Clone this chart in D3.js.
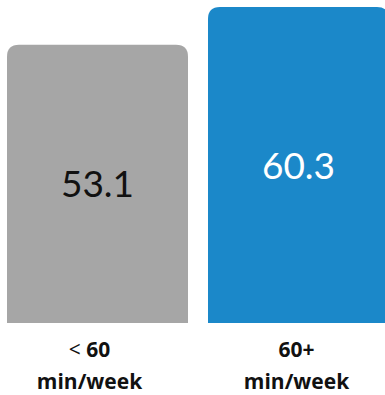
<!DOCTYPE html>
<html>
<head>
<meta charset="utf-8">
<script src="https://cdn.jsdelivr.net/npm/d3@7"></script>
<style>
  html, body { margin: 0; padding: 0; background: #fff; }
  svg { display: block; }
</style>
</head>
<body>
<svg id="chart" width="385" height="395"></svg>
<script>
const categories = ["< 60 min/week", "60+ min/week"];
const values = [53.1, 60.3];
const valueLabels = ["53.1", "60.3"];
const labelLine1Pre = ["<", ""];
const labelLine1Bold = ["60", "60+"];
const labelLine2 = ["min/week", "min/week"];

const W = 385, H = 395;
const barColors = ["#a6a6a6", "#1b88c9"];
const valueColors = ["#111111", "#ffffff"];
const labelShift = [-8, -2];
const radius = 12;

const svg = d3.select("#chart");

const x = d3.scaleBand()
  .domain(categories)
  .range([7, 389])
  .paddingInner(0.0995)
  .paddingOuter(0);

const y = d3.scaleLinear()
  .domain([0, d3.max(values)])
  .range([323, 7]);

function topRounded(x0, y0, w, h, r) {
  return `M${x0},${y0 + h}` +
    `L${x0},${y0 + r}` +
    `Q${x0},${y0} ${x0 + r},${y0}` +
    `L${x0 + w - r},${y0}` +
    `Q${x0 + w},${y0} ${x0 + w},${y0 + r}` +
    `L${x0 + w},${y0 + h}Z`;
}

svg.selectAll("path.bar")
  .data(values)
  .join("path")
  .attr("class", "bar")
  .attr("fill", (d, i) => barColors[i])
  .attr("d", (d, i) => topRounded(x(categories[i]), y(d), x.bandwidth(), y(0) - y(d), radius));

svg.selectAll("text.val")
  .data(values)
  .join("text")
  .attr("class", "val")
  .attr("x", (d, i) => x(categories[i]) + x.bandwidth() / 2)
  .attr("y", (d, i) => (y(d) + y(0)) / 2 + 13.5)
  .attr("text-anchor", "middle")
  .attr("font-family", "Lato, 'Open Sans', sans-serif")
  .attr("font-size", 37)
  .attr("fill", (d, i) => valueColors[i])
  .text((d, i) => valueLabels[i]);

const lab = svg.selectAll("g.lab")
  .data(categories)
  .join("g")
  .attr("class", "lab")
  .attr("transform", (d, i) => `translate(${x(d) + x.bandwidth() / 2 + labelShift[i]},0)`);

const l1 = lab.append("text")
  .attr("y", 357)
  .attr("text-anchor", "middle")
  .attr("font-family", "'Open Sans', Lato, sans-serif")
  .attr("font-size", 21)
  .attr("fill", "#111");
l1.append("tspan")
  .attr("font-weight", 400)
  .text((d, i) => labelLine1Pre[i] ? labelLine1Pre[i] + " " : "");
l1.append("tspan")
  .attr("font-weight", 700)
  .text((d, i) => labelLine1Bold[i]);

lab.append("text")
  .attr("y", 389)
  .attr("text-anchor", "middle")
  .attr("font-family", "'Open Sans', Lato, sans-serif")
  .attr("font-size", 21)
  .attr("font-weight", 700)
  .attr("fill", "#111")
  .text((d, i) => labelLine2[i]);
</script>
</body>
</html>
